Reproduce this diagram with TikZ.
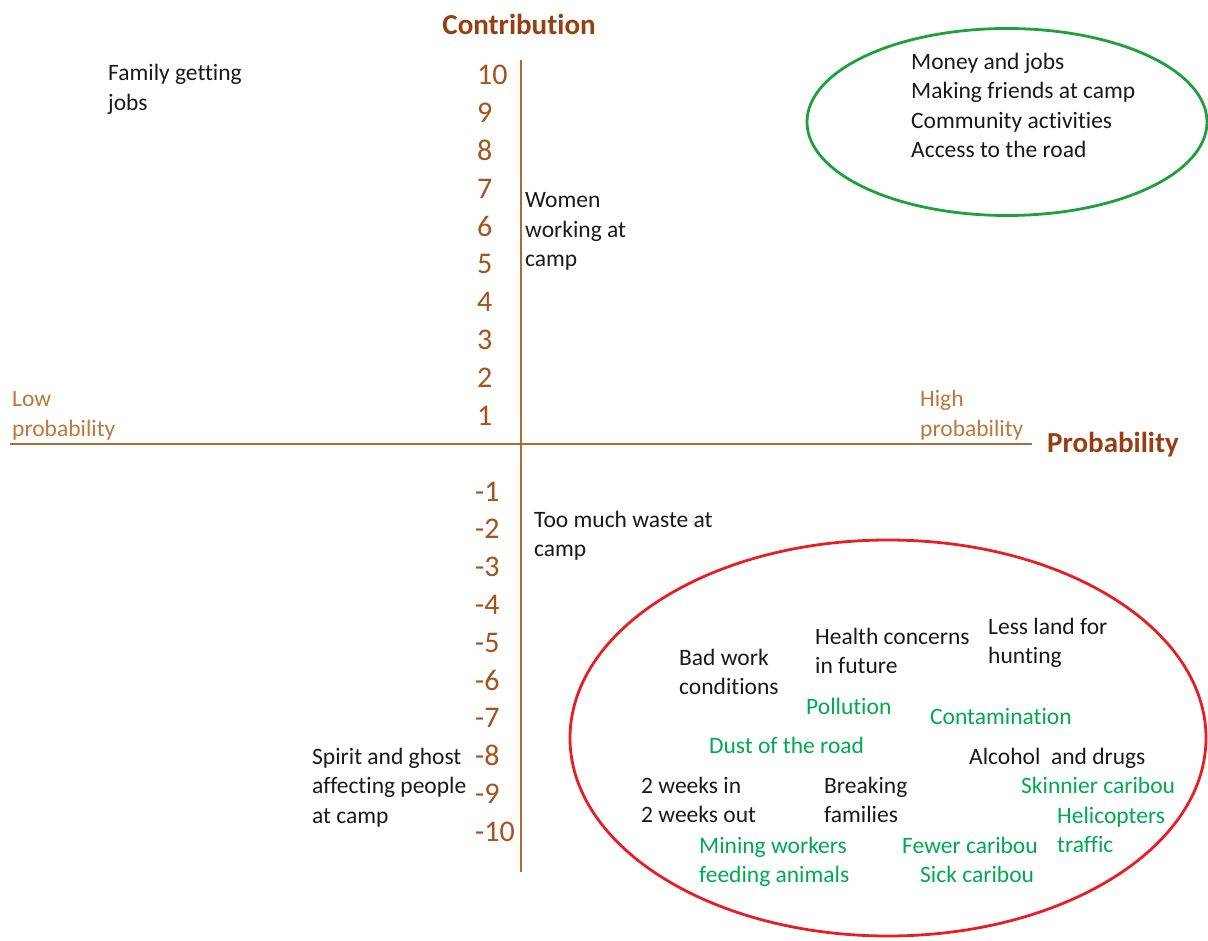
\documentclass[tikz,border=0pt]{standalone}
\usepackage{fontspec}
\setmainfont[Ligatures=NoCommon]{Carlito}
\usetikzlibrary{shapes.geometric}
\definecolor{rust}{RGB}{151,62,18}
\definecolor{axiscol}{RGB}{176,106,52}
\definecolor{numcol}{RGB}{164,82,30}
\definecolor{lblcol}{RGB}{190,118,60}
\definecolor{grn}{RGB}{0,168,80}
\definecolor{ringgreen}{RGB}{30,160,60}
\definecolor{ringred}{RGB}{232,30,36}
\definecolor{ink}{RGB}{25,25,25}
\begin{document}
\begin{tikzpicture}[x=1pt,y=-1pt,
  txt/.style={anchor=base west, inner sep=0pt, align=left, font=\fontsize{23.5}{29.5}\selectfont, text=ink},
  gtxt/.style={txt, text=grn},
  otxt/.style={txt, text=lblcol},
  numlbl/.style={anchor=base west, inner sep=0pt, font=\fontsize{30}{36}\selectfont, text=numcol},
  ttl/.style={inner sep=0pt, font=\fontsize{29}{35}\selectfont\bfseries, text=rust},
  axisline/.style={draw=axiscol, line width=2pt},
  ring/.style={ellipse, draw, line width=2.8pt, inner sep=0pt}
]
\useasboundingbox (0,0) rectangle (1208,941);
% axes
\coordinate (vtop) at (521,60);
\coordinate (vbot) at (521,872);
\coordinate (hl) at (10,444);
\coordinate (hr) at (1032,444);
\draw[axisline] (vtop) -- (vbot);
\draw[axisline] (hl) -- (hr);
% titles (multi-line nodes are placed by the baseline of their last line)
\node[ttl, anchor=base] (contrib) at (519,35) {Contribution};
\node[ttl, anchor=base west] (prob) at (1047,452) {Probability};
\node[otxt] (low) at (12,436) {Low\\probability};
\node[otxt] (high) at (920,436) {High\\probability};
% scale numbers
\foreach \n in {1,...,10}{
  \pgfmathsetmacro{\yy}{75+(10-\n)*37.8+10}
  \node[numlbl] (p\n) at (477,\yy) {\n};
  \pgfmathsetmacro{\yn}{491+(\n-1)*37.8+10}
  \node[numlbl] (m\n) at (475,\yn) {-\n};
}
% ellipses
\node[ring, draw=ringgreen, minimum width=400pt, minimum height=187pt] (good) at (1007,122) {};
\node[ring, draw=ringred, minimum width=636pt, minimum height=396pt] (bad) at (888,738) {};
% upper texts
\node[txt] (family) at (108,110.5) {Family getting\\jobs};
\node[txt] (women) at (525,267) {Women\\working at\\camp};
\node[txt] (goodtxt) at (911,158) {Money and jobs\\Making friends at camp\\Community activities\\Access to the road};
% lower texts
\node[txt] (waste) at (534,556.5) {Too much waste at\\camp};
\node[txt] (spirit) at (312,823) {Spirit and ghost\\affecting people\\at camp};
\node[txt] (badwork) at (679,694.5) {Bad work\\conditions};
\node[txt] (health) at (815,673.5) {Health concerns\\in future};
\node[txt] (land) at (988,663.5) {Less land for\\hunting};
\node[gtxt] (poll) at (806,714) {Pollution};
\node[gtxt] (contam) at (930,724) {Contamination};
\node[gtxt] (dust) at (709,753) {Dust of the road};
\node[txt] (alcohol) at (969,764) {Alcohol\ \ and drugs};
\node[txt] (weeks) at (641,822.5) {2 weeks in\\2 weeks out};
\node[txt] (breaking) at (824,822.5) {Breaking\\families};
\node[gtxt] (skinny) at (1021,793) {Skinnier caribou};
\node[gtxt] (heli) at (1057,852.5) {Helicopters\\traffic};
\node[gtxt] (mining) at (699,882.5) {Mining workers\\feeding animals};
\node[gtxt] (fewer) at (902,853) {Fewer caribou};
\node[gtxt] (sick) at (920,882) {Sick caribou};
\end{tikzpicture}
\end{document}
